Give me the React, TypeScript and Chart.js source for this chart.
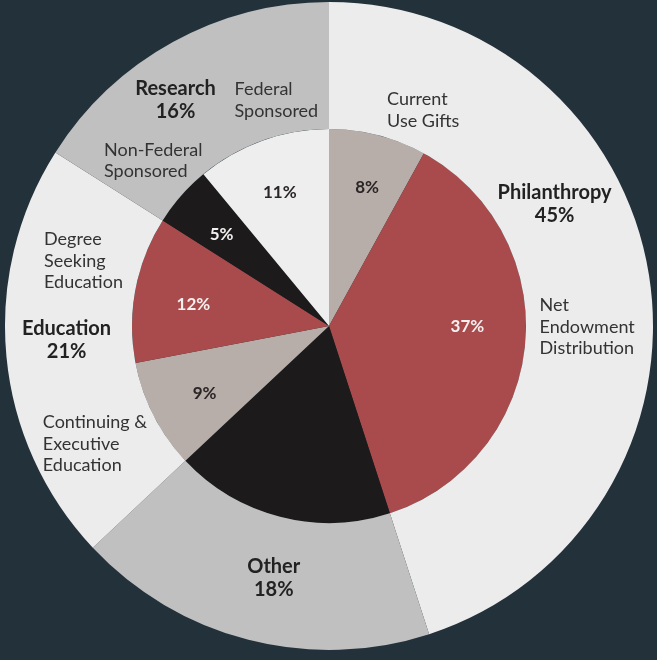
import React, { useEffect, useRef } from "react";
import { Chart, registerables } from "chart.js";

Chart.register(...registerables);

// ---- data ----
const groupLabels = ["Philanthropy", "Other", "Education", "Research"];
const groupValues = [45, 18, 21, 16];
const groupColors = ["#ececec", "#c0c0c0", "#ececec", "#c0c0c0"];

const itemLabels = [
  ["Current", "Use Gifts"],
  ["Net", "Endowment", "Distribution"],
  ["Other"],
  ["Continuing &", "Executive", "Education"],
  ["Degree", "Seeking", "Education"],
  ["Non-Federal", "Sponsored"],
  ["Federal", "Sponsored"],
];
const itemValues = [8, 37, 18, 9, 12, 5, 11];
const itemColors = ["#b8aea9", "#a94b4c", "#1c1a1b", "#b8aea9", "#a94b4c", "#1c1a1b", "#eeeeee"];
const itemPctColors = ["#2a2526", "#f4f0f0", "", "#2a2526", "#f4f0f0", "#f4f0f0", "#2a2526"];

const BG = "#23323a";
const FONT = "Lato, 'Open Sans', sans-serif";

// label placement: dataset, index, angle offset from arc middle (deg), radius as fraction of chart radius
type Place = { ds: number; i: number; da: number; r: number; kind: "group" | "name" | "pct" };
const placements: Place[] = [
  { ds: 0, i: 0, da: -19.6, r: 0.793, kind: "group" },
  { ds: 0, i: 1, da: -2.0, r: 0.794, kind: "group" },
  { ds: 0, i: 2, da: 2.5, r: 0.811, kind: "group" },
  { ds: 0, i: 3, da: -5.3, r: 0.845, kind: "group" },
  { ds: 1, i: 0, da: 0.6, r: 0.693, kind: "name" },
  { ds: 1, i: 1, da: -5.4, r: 0.65, kind: "name" },
  { ds: 1, i: 3, da: 4.8, r: 0.954, kind: "name" },
  { ds: 1, i: 4, da: 2.3, r: 0.903, kind: "name" },
  { ds: 1, i: 5, da: -4.9, r: 0.864, kind: "name" },
  { ds: 1, i: 6, da: -2.8, r: 0.759, kind: "name" },
  { ds: 1, i: 0, da: 0.9, r: 0.446, kind: "pct" },
  { ds: 1, i: 1, da: -5.4, r: 0.427, kind: "pct" },
  { ds: 1, i: 3, da: -1.0, r: 0.435, kind: "pct" },
  { ds: 1, i: 4, da: -1.5, r: 0.424, kind: "pct" },
  { ds: 1, i: 5, da: -0.7, r: 0.437, kind: "pct" },
  { ds: 1, i: 6, da: -0.3, r: 0.442, kind: "pct" },
];

const labelPlugin = {
  id: "sliceLabels",
  afterDatasetsDraw(chart: any) {
    const ctx = chart.ctx as CanvasRenderingContext2D;
    const outer = chart.getDatasetMeta(0).data[0] as any;
    const R = outer.outerRadius;
    ctx.save();
    ctx.textBaseline = "middle";
    for (const p of placements) {
      const arc = chart.getDatasetMeta(p.ds).data[p.i] as any;
      const mid = (arc.startAngle + arc.endAngle) / 2 + (p.da * Math.PI) / 180;
      const x = arc.x + Math.cos(mid) * R * p.r;
      const y = arc.y + 1 + Math.sin(mid) * R * p.r;
      let lines: string[];
      let lh: number;
      if (p.kind === "group") {
        lines = [groupLabels[p.i], groupValues[p.i] + "%"];
        ctx.font = "bold 20px " + FONT;
        ctx.fillStyle = "#222222";
        ctx.textAlign = "center";
        lh = 23;
      } else if (p.kind === "name") {
        lines = itemLabels[p.i];
        ctx.font = "18px " + FONT;
        ctx.fillStyle = "#333333";
        ctx.textAlign = "left";
        lh = 21.5;
      } else {
        lines = [itemValues[p.i] + "%"];
        ctx.font = "bold 17px " + FONT;
        ctx.fillStyle = itemPctColors[p.i];
        ctx.textAlign = "center";
        lh = 20;
      }
      const top = y - ((lines.length - 1) * lh) / 2;
      lines.forEach((ln, k) => ctx.fillText(ln, x, top + k * lh));
    }
    ctx.restore();
  },
};

export default function App() {
  const ref = useRef<HTMLCanvasElement | null>(null);
  useEffect(() => {
    if (!ref.current) return;
    const chart = new Chart(ref.current, {
      type: "pie",
      data: {
        labels: groupLabels,
        datasets: [
          {
            data: groupValues,
            backgroundColor: groupColors,
            borderWidth: 0,
            weight: 127,
          } as any,
          {
            data: itemValues,
            backgroundColor: itemColors,
            borderWidth: 0,
            weight: 197,
          } as any,
        ],
      },
      options: {
        responsive: false,
        animation: false,
        events: [],
        layout: { padding: { left: 5, right: 4, top: 2, bottom: 10 } },
        plugins: {
          legend: { display: false },
          tooltip: { enabled: false },
        },
      },
      plugins: [labelPlugin],
    });
    return () => chart.destroy();
  }, []);
  return (
    <div
      style={{
        position: "fixed",
        left: 0,
        top: 0,
        width: 657,
        height: 660,
        background: BG,
        overflow: "hidden",
      }}
    >
      <canvas ref={ref} width={657} height={660} style={{ display: "block" }} />
    </div>
  );
}
